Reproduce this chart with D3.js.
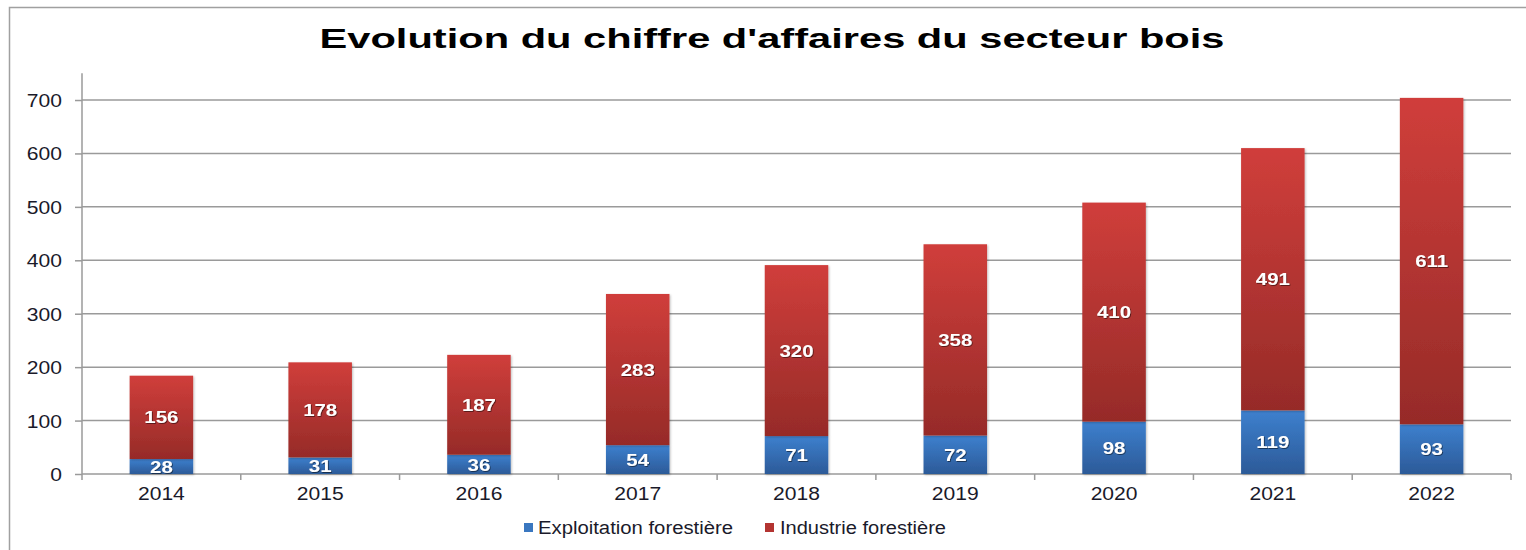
<!DOCTYPE html>
<html><head><meta charset="utf-8">
<script src="https://cdn.jsdelivr.net/npm/d3@7"></script>
<style>html,body{margin:0;padding:0;background:#fff;}svg{display:block;font-family:"Liberation Sans",Arial,sans-serif;}</style>
</head><body>
<svg id="c" width="1526" height="550"></svg>
<script>
const years = ["2014","2015","2016","2017","2018","2019","2020","2021","2022"];
const exploitation = [28,31,36,54,71,72,98,119,93];
const industrie = [156,178,187,283,320,358,410,491,611];
const yTicks = [0,100,200,300,400,500,600,700];
const seriesNames = ["Exploitation forestière","Industrie forestière"];
const title = "Evolution du chiffre d'affaires du secteur bois";

const svg = d3.select("#c");
const defs = svg.append("defs");
function grad(id, top, bot){
  const g = defs.append("linearGradient").attr("id",id).attr("x1",0).attr("y1",0).attr("x2",0).attr("y2",1);
  g.append("stop").attr("offset","0%").attr("stop-color",top);
  g.append("stop").attr("offset","100%").attr("stop-color",bot);
}
grad("gBlue","#3d80ce","#2c5a98");
grad("gRed","#d03e3b","#962b28");
const f = defs.append("filter").attr("id","sh").attr("x","-20%").attr("y","-20%").attr("width","140%").attr("height","140%");
f.append("feDropShadow").attr("dx",1).attr("dy",1).attr("stdDeviation",1).attr("flood-color","#000").attr("flood-opacity",0.25);
const tf = defs.append("filter").attr("id","tsh").attr("x","-20%").attr("y","-20%").attr("width","140%").attr("height","140%");
tf.append("feDropShadow").attr("dx",0.8).attr("dy",0.8).attr("stdDeviation",0.6).attr("flood-color","#000").attr("flood-opacity",0.6);

function stretch(sel, sx){
  sel.each(function(){ const w=this.getComputedTextLength(); d3.select(this).attr("textLength", w*sx).attr("lengthAdjust","spacingAndGlyphs"); });
}

// outer border
svg.append("path").attr("d","M9.5,560 L9.5,7.5 L1530,7.5").attr("fill","none").attr("stroke","#a0a0a0").attr("stroke-width",1.5);

const x = d3.scaleBand().domain(years).range([82,1511]).paddingInner(0.6).paddingOuter(0.3);
const y = d3.scaleLinear().domain([0,750]).range([474,73.3]);

// title
svg.append("text").attr("x",772).attr("y",48).attr("text-anchor","middle")
  .attr("font-size",28).attr("font-weight","bold").attr("fill","#000")
  .attr("textLength",905).attr("lengthAdjust","spacingAndGlyphs").text(title);

// gridlines
svg.append("g").selectAll("line").data(yTicks.filter(d=>d>0)).join("line")
  .attr("x1",82).attr("x2",1511).attr("y1",d=>y(d)).attr("y2",d=>y(d))
  .attr("stroke","#9a9a9a").attr("stroke-width",1.5);

// y axis
const ya = svg.append("g").attr("transform","translate(82,0)")
  .call(d3.axisLeft(y).tickValues(yTicks).tickSize(7).tickPadding(13).tickFormat(d3.format("d")));
ya.select(".domain").attr("stroke","#9a9a9a").attr("stroke-width",1.5).attr("d","M0,73.3V474");
ya.selectAll(".tick line").attr("stroke","#9a9a9a").attr("stroke-width",1.5);
ya.selectAll(".tick text").attr("font-size",18).attr("font-family","Liberation Sans, Arial, sans-serif").attr("fill","#1a1a2a").attr("dy","0.36em");
stretch(ya.selectAll(".tick text"),1.17);

// x axis
const xa = svg.append("g").attr("transform","translate(0,474)")
  .call(d3.axisBottom(x).tickSize(0).tickPadding(13));
xa.select(".domain").attr("stroke","#9a9a9a").attr("stroke-width",1.5).attr("d","M82,0H1511");
xa.selectAll(".tick text").attr("font-size",18).attr("font-family","Liberation Sans, Arial, sans-serif").attr("fill","#1a1a2a").attr("dy","0.72em");
stretch(xa.selectAll(".tick text"),1.17);
// category boundary ticks
const step = x.step();
const bounds = d3.range(years.length+1).map(i => x(years[0]) - x.paddingOuter()*step + i*step);
xa.append("g").selectAll("line").data(bounds).join("line")
  .attr("x1",d=>d).attr("x2",d=>d).attr("y1",0).attr("y2",6)
  .attr("stroke","#9a9a9a").attr("stroke-width",1.5);

// stacked bars
const rows = years.map((yr,i)=>({year:yr, a:exploitation[i], b:industrie[i]}));
const stack = d3.stack().keys(["a","b"])(rows);
const fills = ["url(#gBlue)","url(#gRed)"];
const bars = svg.append("g");
stack.forEach((s,k)=>{
  bars.append("g").selectAll("rect").data(s).join("rect")
    .attr("x",d=>x(d.data.year)).attr("width",x.bandwidth())
    .attr("y",d=>y(d[1])).attr("height",d=>y(d[0])-y(d[1]))
    .attr("fill",fills[k]).attr("filter","url(#sh)");
});
// labels
stack.forEach((s,k)=>{
  const t = svg.append("g").selectAll("text").data(s).join("text")
    .attr("x",d=>x(d.data.year)+x.bandwidth()/2)
    .attr("y",d=>y((d[0]+d[1])/2)).attr("dy","0.36em")
    .attr("text-anchor","middle").attr("font-size",17).attr("font-weight","bold")
    .attr("fill","#fff").attr("filter","url(#tsh)")
    .text(d=>d[1]-d[0]);
  stretch(t,1.2);
});

// legend
const leg = svg.append("g");
const legItems = [{name:seriesNames[0], c:"#3a77c0", sx:524, tx:538, tw:195},{name:seriesNames[1], c:"#b33431", sx:765, tx:780, tw:166}];
legItems.forEach(it=>{
  leg.append("rect").attr("x",it.sx).attr("y",523).attr("width",9).attr("height",9).attr("fill",it.c);
  leg.append("text").attr("x",it.tx).attr("y",534).attr("font-size",18).attr("fill","#1a1a2a")
    .attr("textLength",it.tw).attr("lengthAdjust","spacingAndGlyphs").text(it.name);
});
</script>
</body></html>
